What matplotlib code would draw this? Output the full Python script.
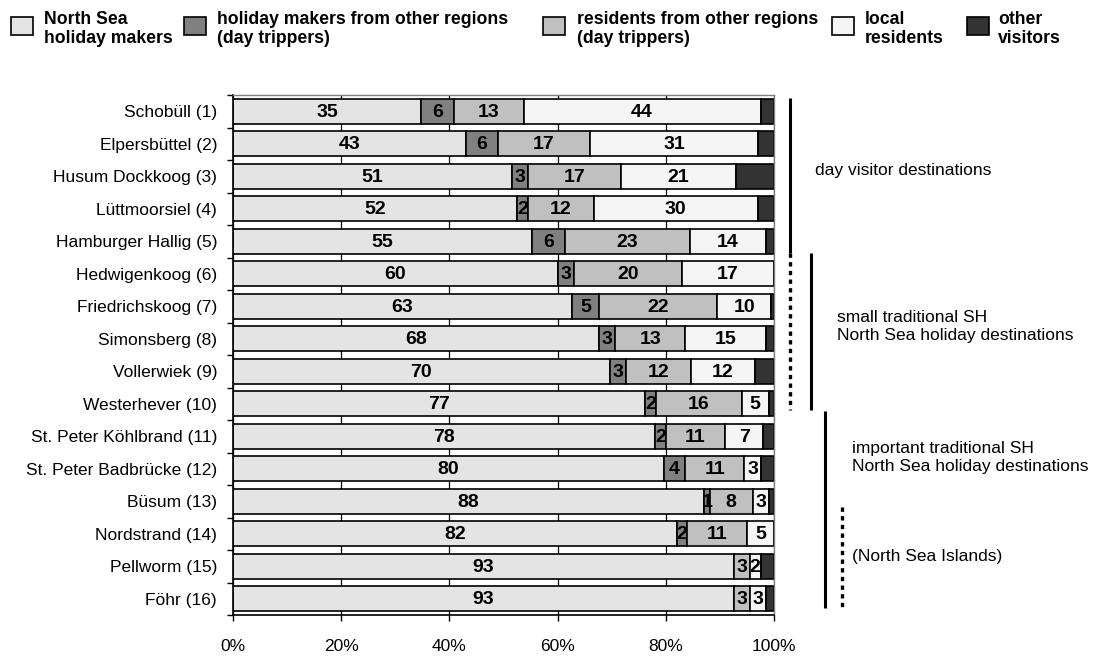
import matplotlib
matplotlib.use('Agg')
import matplotlib.pyplot as plt
import numpy as np
from matplotlib.patches import Rectangle
from matplotlib.lines import Line2D

plt.rcParams['font.family'] = ['Liberation Sans', 'DejaVu Sans']

categories = ["Schobüll (1)", "Elpersbüttel (2)", "Husum Dockkoog (3)", "Lüttmoorsiel (4)",
              "Hamburger Hallig (5)", "Hedwigenkoog (6)", "Friedrichskoog (7)", "Simonsberg (8)",
              "Vollerwiek (9)", "Westerhever (10)", "St. Peter Köhlbrand (11)",
              "St. Peter Badbrücke (12)", "Büsum (13)", "Nordstrand (14)", "Pellworm (15)", "Föhr (16)"]
north_sea = [35, 43, 51, 52, 55, 60, 63, 68, 70, 77, 78, 80, 88, 82, 93, 93]
hm_other = [6, 6, 3, 2, 6, 3, 5, 3, 3, 2, 2, 4, 1, 2, 0, 0]
res_other = [13, 17, 17, 12, 23, 20, 22, 13, 12, 16, 11, 11, 8, 11, 3, 3]
local = [44, 31, 21, 30, 14, 17, 10, 15, 12, 5, 7, 3, 3, 5, 2, 3]
other = [2.5, 3, 7, 3, 1.5, 0, 0.5, 1.5, 3.5, 1, 2, 2.5, 1, 0, 2.5, 1.5]
series_names = ["North Sea\nholiday makers", "holiday makers from other regions\n(day trippers)",
                "residents from other regions\n(day trippers)", "local\nresidents", "other\nvisitors"]
x_ticks = [0, 20, 40, 60, 80, 100]
x_ticklabels = ["0%", "20%", "40%", "60%", "80%", "100%"]

W, H = 1096, 657
fig = plt.figure(figsize=(W / 100, H / 100), dpi=100)


def fx(px):
    return px / W


def fy(py):
    return 1 - py / H


ax = fig.add_axes([fx(233), fy(615), fx(774) - fx(233), fy(95) - fy(615)])

series = [north_sea, hm_other, res_other, local, other]
colors = ['#e4e4e4', '#808080', '#c0c0c0', '#f5f5f5', '#333333']
labeled = [True, True, True, True, False]

data = np.array(series, dtype=float)
totals = data.sum(axis=0)
shares = data / totals * 100
n = len(categories)
y = np.arange(n)
left = np.zeros(n)
for i in range(len(series)):
    ax.barh(y, shares[i], left=left, height=0.76, color=colors[i], edgecolor='black',
            linewidth=1.2, zorder=2)
    if labeled[i]:
        for j in range(n):
            v = data[i, j]
            if v > 0:
                ax.text(left[j] + shares[i, j] / 2, y[j] + 0.03, f"{int(v)}", ha='center', va='center',
                        fontsize=14, fontweight='bold', zorder=3)
    left = left + shares[i]

ax.set_xlim(0, 100)
ax.set_ylim(n - 0.5, -0.5)
ax.set_xticks(x_ticks)
ax.set_xticklabels(x_ticklabels)
ax.xaxis.grid(True, color='black', linewidth=0.9, zorder=0)
ax.set_axisbelow(True)
ax.set_yticks(y)
ax.set_yticklabels(categories, fontsize=12.5)
ax.tick_params(axis='y', which='major', length=0, pad=11.5)
ax.set_yticks(np.arange(-0.5, n, 1), minor=True)
ax.tick_params(axis='y', which='minor', length=4, width=1, direction='out')
ax.tick_params(axis='x', length=4, width=1, direction='out', pad=13.5, labelsize=12.5)
for s in ['left', 'bottom']:
    ax.spines[s].set_color('black')
    ax.spines[s].set_linewidth(1.2)
for s in ['top', 'right']:
    ax.spines[s].set_color('#808080')
    ax.spines[s].set_linewidth(1.0)

# legend (manual)
sq_x = [11, 184, 543, 832, 967]
tx_x = [44, 217, 577, 865, 998]
for k in range(5):
    fig.patches.append(Rectangle((fx(sq_x[k]), fy(35)), 22 / W, 18 / H, transform=fig.transFigure,
                                 facecolor=colors[k], edgecolor='black', linewidth=1.2))
    fig.text(fx(tx_x[k]), fy(29), series_names[k], ha='left', va='center', fontsize=12.7,
             fontweight='bold', linespacing=1.23)

# group brackets
def vline(x, y0, y1, ls='-', lw=2.2):
    fig.add_artist(Line2D([fx(x), fx(x)], [fy(y0), fy(y1)], color='black', linewidth=lw,
                          linestyle=ls, solid_capstyle='butt', dash_capstyle='butt',
                          transform=fig.transFigure))

dotted = (0, (1.3, 1.3))
vline(790, 98, 253)
vline(790, 253, 410, ls=dotted, lw=2.4)
vline(811, 253, 410)
vline(825, 411, 608)
vline(842, 507, 608, ls=dotted, lw=2.4)

fig.text(fx(815), fy(170), "day visitor destinations", ha='left', va='center', fontsize=12.5)
fig.text(fx(837), fy(327), "small traditional SH\nNorth Sea holiday destinations", ha='left',
         va='center', fontsize=12.5, linespacing=1.25)
fig.text(fx(852), fy(457), "important traditional SH\nNorth Sea holiday destinations", ha='left',
         va='center', fontsize=12.5, linespacing=1.25)
fig.text(fx(852), fy(557), "(North Sea Islands)", ha='left', va='center', fontsize=12.5)

fig.savefig('out.png', dpi=100)
